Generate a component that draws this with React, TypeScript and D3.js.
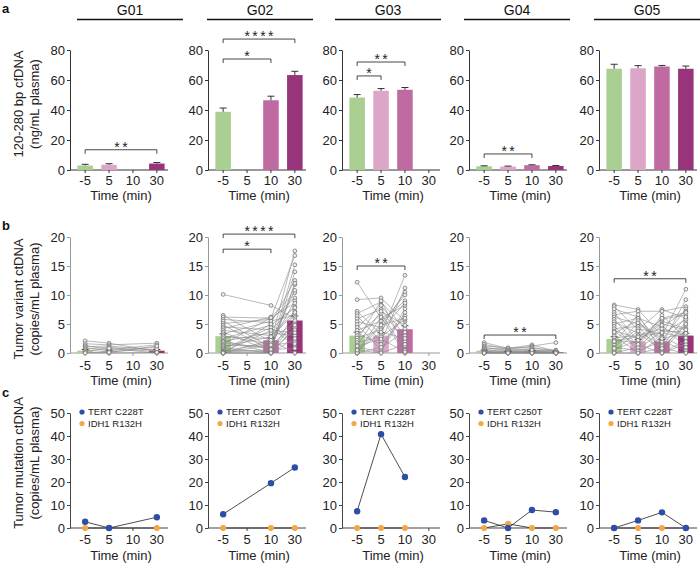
import React, { useEffect, useRef } from 'react';
import * as d3 from 'd3';

const groups = ['G01', 'G02', 'G03', 'G04', 'G05'];
const timeLabels = ['-5', '5', '10', '30'];
const timeColors = ['#a9cf92', '#dca6c8', '#bf6ba2', '#983479'];

// a: 120-280 bp cfDNA (ng/mL plasma), mean and upper error per time point
const cfdnaMean = [
  [3.0, 3.5, null, 4.3],
  [38.8, null, 46.5, 63.3],
  [48.3, 52.8, 53.5, null],
  [2.5, 2.3, 3.2, 2.7],
  [67.5, 67.8, 69.0, 67.5],
];
const cfdnaErr = [
  [0.8, 0.7, null, 0.7],
  [2.5, null, 2.7, 2.5],
  [2.0, 1.5, 1.5, null],
  [0.3, 0.3, 0.3, 0.3],
  [3.0, 1.8, 0.7, 1.8],
];
// [from, to, level, label]
const cfdnaSig: [string, string, number, string][][] = [
  [['-5', '30', 13.5, '**']],
  [['-5', '10', 74, '*'], ['-5', '30', 87.3, '****']],
  [['-5', '5', 62.7, '*'], ['-5', '10', 72, '**']],
  [['-5', '10', 10.7, '**']],
  [],
];

// b: tumor variant ctDNA (copies/mL plasma), per subject at each time point
const variantG01 = [
  [2.1, 1.6, 1.3, 1.1, 0.9, 0.7, 0.5, 0.3, 0.1, 0],
  [1.7, 1.4, 0.6, 1.2, 0.4, 1.0, 0.2, 0.8, 0, 0.1],
  null,
  [0.3, 1.7, 1.4, 0.5, 1.0, 0.2, 0.7, 0, 0.1, 1.2],
];
const variantG02 = [
  [10.1, 6.5, 6.2, 5.8, 5.5, 5.1, 4.8, 4.5, 4.2, 3.9, 3.6, 3.3, 3.0, 2.8, 2.5, 2.2, 2.0, 1.8, 1.5, 1.3, 1.1, 0.9, 0.7, 0.5, 0.3, 0.2, 0.1, 0, 0, 0, 0, 0],
  null,
  [8.2, 2.0, 6.0, 5.2, 1.0, 5.8, 0.5, 4.0, 6.2, 3.0, 0.3, 5.5, 1.5, 2.5, 4.8, 0, 3.5, 0.8, 6.1, 1.2, 2.8, 0, 4.4, 0.2, 1.8, 3.9, 0.6, 0, 2.2, 0, 5.0, 1.4],
  [6.0, 17.6, 16.8, 12.5, 15.2, 9.5, 11.8, 8.0, 10.4, 7.2, 14.0, 6.5, 9.0, 5.2, 7.8, 4.4, 3.0, 12.0, 8.6, 2.0, 6.8, 5.6, 1.2, 4.0, 10.8, 3.5, 0.8, 2.5, 0, 7.0, 1.6, 4.8],
];
const variantG03 = [
  [12.2, 9.2, 7.2, 6.8, 6.4, 5.9, 5.4, 4.9, 4.4, 3.9, 3.4, 3.0, 2.6, 2.2, 1.8, 1.4, 1.0, 0.6, 0.3, 0, 0, 0, 0.5, 1.2],
  [6.0, 9.5, 3.2, 8.8, 2.0, 7.5, 4.4, 0.5, 8.2, 5.5, 1.5, 6.8, 4.0, 9.0, 2.8, 7.2, 0.2, 5.0, 3.6, 6.2, 1.0, 4.8, 0, 2.4],
  [8.2, 5.5, 13.4, 4.2, 11.2, 2.0, 10.5, 7.6, 3.0, 9.0, 6.4, 0.5, 8.6, 1.2, 5.8, 4.8, 7.0, 10.0, 2.5, 0, 3.6, 6.0, 1.5, 0.2],
  null,
];
const variantG04 = [
  [1.8, 1.5, 1.2, 1.0, 0.8, 0.6, 0.5, 0.3, 0.2, 0.1, 0, 0, 0, 0],
  [0.8, 0.6, 0.9, 0.4, 0.7, 0.2, 0.5, 0.1, 0.3, 0, 0, 0.2, 0, 0],
  [1.4, 1.2, 1.0, 0.8, 0.6, 0.4, 0.3, 0.2, 0.1, 0, 0, 0, 0.5, 0],
  [0.3, 1.8, 0.2, 0.5, 0.1, 0.4, 0, 0.2, 0, 0, 0.1, 0, 0, 0],
];
const variantG05 = [
  [8.3, 8.0, 7.6, 7.0, 6.6, 6.2, 5.8, 5.4, 5.0, 4.6, 4.2, 3.8, 3.4, 3.0, 2.6, 2.2, 1.8, 1.4, 1.0, 0.6, 0.3, 0, 0, 0.8, 2.0, 3.6],
  [7.5, 4.0, 6.2, 2.0, 7.2, 5.0, 1.2, 3.4, 6.0, 0.6, 4.6, 2.6, 5.6, 0, 3.0, 1.8, 6.6, 4.2, 0.4, 2.2, 3.8, 1.0, 0, 5.2, 2.8, 1.5],
  [3.0, 7.5, 1.5, 5.5, 7.2, 2.2, 6.5, 0.5, 4.5, 3.8, 0, 5.8, 1.0, 2.8, 4.2, 6.0, 0.2, 3.3, 2.0, 5.0, 1.2, 4.8, 0.8, 2.5, 3.5, 0],
  [11.0, 6.0, 9.2, 4.2, 8.0, 7.6, 2.5, 5.4, 7.2, 3.6, 1.5, 6.6, 4.8, 0.8, 3.0, 7.0, 2.0, 5.8, 0.4, 4.0, 6.2, 1.0, 0, 3.4, 2.6, 5.0],
];
const variantMean = [
  [0.4, 0.3, null, 0.4],
  [2.9, null, 2.2, 5.6],
  [3.0, 3.0, 4.1, null],
  [0.4, 0.2, 0.3, 0.1],
  [2.4, 2.0, 2.0, 3.0],
];
const variantErr = [
  [0.2, 0.2, null, 0.2],
  [0.4, null, 0.4, 0.8],
  [0.6, 0.5, 0.6, null],
  [0.1, 0.1, 0.1, 0.1],
  [0.4, 0.3, 0.3, 0.4],
];
const variantSig: [string, string, number, string][][] = [
  [],
  [['-5', '10', 17.9, '*'], ['-5', '30', 20.5, '****']],
  [['-5', '10', 15, '**']],
  [['-5', '30', 3.1, '**']],
  [['-5', '30', 12.8, '**']],
];

// c: tumor mutation ctDNA (copies/mL plasma)
const tertLabels = ['TERT C228T', 'TERT C250T', 'TERT C228T', 'TERT C250T', 'TERT C228T'];
const tertValues = [
  [2.7, 0, null, 4.7],
  [6.0, null, 19.5, 26.3],
  [7.3, 40.8, 22.2, null],
  [3.3, 0, 7.8, 6.9],
  [0, 3.3, 6.8, 0],
];
const idh1Label = 'IDH1 R132H';
const idh1Values = [
  [0, 0, null, 0],
  [0, null, 0, 0],
  [0, 0, 0, null],
  [0, 1.8, 0, 0],
  [0, 0, 0, 0],
];

const FONT = 'Arial, "Liberation Sans", Helvetica, sans-serif';

export default function App() {
  const svgRef = useRef<SVGSVGElement>(null);

  useEffect(() => {
    if (!svgRef.current) return;
    const svg = d3.select(svgRef.current);
    svg.selectAll('*').remove();
    svg.attr('font-family', FONT);

    const panelX = [70, 208, 342, 469, 599];
    const panelW = 98;
    const headerX = [77, 207, 335, 464, 594];

    const yA = d3.scaleLinear().domain([0, 80]).range([170, 50]);
    const yB = d3.scaleLinear().domain([0, 20]).range([353, 237]);
    const yC = d3.scaleLinear().domain([0, 50]).range([528, 413]);

    const makeX = (x0: number) =>
      d3.scaleBand<string>().domain(timeLabels).range([x0 + 5, x0 + 97]).paddingInner(0.35).paddingOuter(0.1);

    const drawAxes = (x0: number, x: d3.ScaleBand<string>, y: d3.ScaleLinear<number, number>,
                      ticks: number[], color: string, pad: number, titleOff: number) => {
      const g = svg.append('g');
      const ya = g.append('g').attr('transform', `translate(${x0},0)`)
        .call(d3.axisLeft(y).tickValues(ticks).tickSize(3).tickSizeOuter(0).tickPadding(2));
      ya.attr('font-family', FONT).attr('font-size', 13);
      ya.select('.domain').attr('stroke', color);
      ya.selectAll('.tick line').attr('stroke', color);
      ya.selectAll('.tick text').attr('fill', '#222');
      const base = y(0);
      const xa = g.append('g').attr('transform', `translate(0,${base})`)
        .call(d3.axisBottom(x).tickSize(3).tickPadding(pad));
      xa.attr('font-family', FONT).attr('font-size', 13);
      xa.select('.domain').remove();
      xa.selectAll('.tick line').attr('stroke', color);
      xa.selectAll('.tick text').attr('fill', '#222');
      g.append('line').attr('x1', x0).attr('x2', x0 + panelW).attr('y1', base).attr('y2', base)
        .attr('stroke', color).attr('stroke-width', 1);
      g.append('text').attr('x', x0 + panelW / 2 + 2).attr('y', base + titleOff)
        .attr('text-anchor', 'middle').attr('font-size', 13).attr('fill', '#222').text('Time (min)');
    };

    const drawSig = (x: d3.ScaleBand<string>, y: d3.ScaleLinear<number, number>, sig: [string, string, number, string][]) => {
      sig.forEach(([a, b, lvl, lab]) => {
        const x1 = (x(a) as number) + x.bandwidth() / 2;
        const x2 = (x(b) as number) + x.bandwidth() / 2;
        const yy = y(lvl);
        svg.append('path').attr('d', `M${x1},${yy + 4}V${yy}H${x2}V${yy + 4}`)
          .attr('fill', 'none').attr('stroke', '#333').attr('stroke-width', 0.9);
        svg.append('text').attr('x', (x1 + x2) / 2 + 1.2).attr('y', yy + 2)
          .attr('text-anchor', 'middle').attr('font-size', 14).attr('letter-spacing', 2.4)
          .attr('fill', '#222').text(lab);
      });
    };

    // headers
    groups.forEach((name, i) => {
      svg.append('text').attr('x', headerX[i] + 53).attr('y', 15).attr('text-anchor', 'middle')
        .attr('font-size', 14).attr('fill', '#111').text(name);
      svg.append('line').attr('x1', headerX[i]).attr('x2', headerX[i] + 106).attr('y1', 19.5).attr('y2', 19.5)
        .attr('stroke', '#111').attr('stroke-width', 1.5);
    });

    // panel letters
    [['a', 13], ['b', 230], ['c', 397]].forEach(([t, yy]) => {
      svg.append('text').attr('x', 2).attr('y', yy as number).attr('font-size', 13)
        .attr('font-weight', 'bold').attr('fill', '#111').text(t as string);
    });

    // y titles
    const yTitle = (cy: number, l1: string, l2: string) => {
      [[18, l1], [34, l2]].forEach(([cx, t]) => {
        svg.append('text').attr('transform', `translate(${cx},${cy}) rotate(-90)`)
          .attr('text-anchor', 'middle').attr('dy', '0.35em').attr('font-size', 13)
          .attr('fill', '#222').text(t as string);
      });
    };
    yTitle(104, '120-280 bp cfDNA', '(ng/mL plasma)');
    yTitle(299, 'Tumor variant ctDNA', '(copies/mL plasma)');
    yTitle(463, 'Tumor mutation ctDNA', '(copies/mL plasma)');

    const variantSets = [variantG01, variantG02, variantG03, variantG04, variantG05];

    groups.forEach((_, gi) => {
      const x0 = panelX[gi];
      const x = makeX(x0);
      const cx = (t: string) => (x(t) as number) + x.bandwidth() / 2;

      // ---- row a
      drawAxes(x0, x, yA, [0, 20, 40, 60, 80], '#333', 3, 30);
      timeLabels.forEach((t, ti) => {
        const m = cfdnaMean[gi][ti];
        if (m === null) return;
        const e = cfdnaErr[gi][ti] as number;
        svg.append('rect').attr('x', x(t) as number).attr('width', x.bandwidth())
          .attr('y', yA(m)).attr('height', yA(0) - yA(m)).attr('fill', timeColors[ti]);
        svg.append('path').attr('d', `M${cx(t)},${yA(m)}V${yA(m + e)}M${cx(t) - 3.5},${yA(m + e)}H${cx(t) + 3.5}`)
          .attr('stroke', '#333').attr('stroke-width', 1).attr('fill', 'none');
      });
      drawSig(x, yA, cfdnaSig[gi]);

      // ---- row b
      drawAxes(x0, x, yB, [0, 5, 10, 15, 20], '#999', 5, 32);
      timeLabels.forEach((t, ti) => {
        const m = variantMean[gi][ti];
        if (m === null) return;
        svg.append('rect').attr('x', x(t) as number).attr('width', x.bandwidth())
          .attr('y', yB(m)).attr('height', yB(0) - yB(m)).attr('fill', timeColors[ti]);
      });
      const set = variantSets[gi];
      const n = (set.find((s) => s !== null) as number[]).length;
      const line = d3.line<[number, number]>();
      for (let s = 0; s < n; s++) {
        const pts: [number, number][] = [];
        timeLabels.forEach((t, ti) => {
          const arr = set[ti];
          if (arr) pts.push([cx(t), yB(arr[s])]);
        });
        svg.append('path').attr('d', line(pts) as string).attr('fill', 'none')
          .attr('stroke', '#8a8a8a').attr('stroke-width', 0.6);
      }
      timeLabels.forEach((t, ti) => {
        const m = variantMean[gi][ti];
        if (m === null) return;
        const e = variantErr[gi][ti] as number;
        svg.append('path').attr('d', `M${cx(t)},${yB(m)}V${yB(m + e)}M${cx(t) - 3.5},${yB(m + e)}H${cx(t) + 3.5}`)
          .attr('stroke', '#333').attr('stroke-width', 0.9).attr('fill', 'none');
      });
      timeLabels.forEach((t, ti) => {
        const arr = set[ti];
        if (!arr) return;
        svg.append('g').selectAll('circle').data(arr).enter().append('circle')
          .attr('cx', cx(t)).attr('cy', (d) => yB(d)).attr('r', 1.9)
          .attr('fill', '#eeeeee').attr('stroke', '#666').attr('stroke-width', 0.7);
      });
      drawSig(x, yB, variantSig[gi]);

      // ---- row c
      drawAxes(x0, x, yC, [0, 10, 20, 30, 40, 50], '#444', 4, 32);
      const seriesLine = (vals: (number | null)[]) => {
        const pts: [number, number][] = [];
        timeLabels.forEach((t, ti) => {
          const v = vals[ti];
          if (v !== null) pts.push([cx(t), yC(v)]);
        });
        return pts;
      };
      const idhPts = seriesLine(idh1Values[gi]);
      const tertPts = seriesLine(tertValues[gi]);
      [idhPts, tertPts].forEach((pts) => {
        svg.append('path').attr('d', line(pts) as string).attr('fill', 'none')
          .attr('stroke', '#222').attr('stroke-width', 0.8);
      });
      svg.append('g').selectAll('circle').data(idhPts).enter().append('circle')
        .attr('cx', (d) => d[0]).attr('cy', (d) => d[1]).attr('r', 3).attr('fill', '#f4a842');
      svg.append('g').selectAll('circle').data(tertPts).enter().append('circle')
        .attr('cx', (d) => d[0]).attr('cy', (d) => d[1]).attr('r', 3.2).attr('fill', '#2d4ea6');

      // legend
      [[tertLabels[gi], '#2d4ea6', 412], [idh1Label, '#f4a842', 423.5]].forEach(([lab, col, ly]) => {
        svg.append('circle').attr('cx', x0 + 12).attr('cy', ly as number).attr('r', 2.6).attr('fill', col as string);
        svg.append('text').attr('x', x0 + 18).attr('y', ly as number).attr('dy', '0.35em')
          .attr('font-size', 9.5).attr('fill', '#222').text(lab as string);
      });
    });
  }, []);

  return (
    <svg ref={svgRef} width={700} height={567}
      style={{ position: 'absolute', left: 0, top: 0, background: '#fff' }} />
  );
}
